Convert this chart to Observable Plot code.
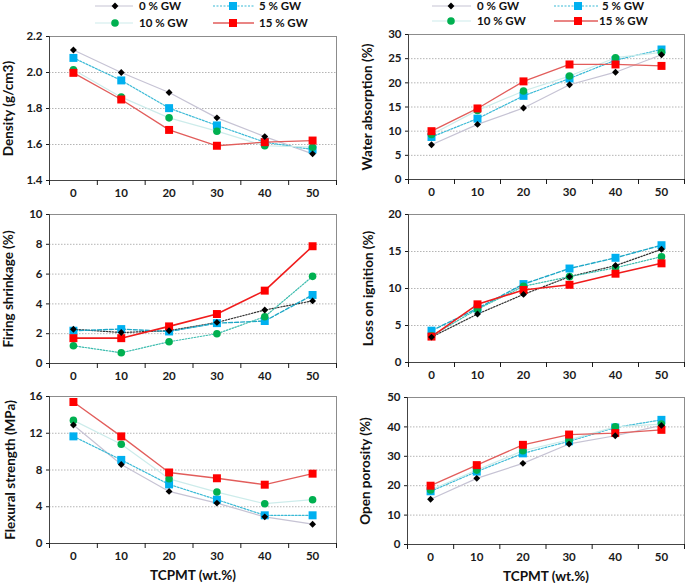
<!DOCTYPE html>
<html>
<head>
<meta charset="utf-8">
<script src="https://cdn.jsdelivr.net/npm/d3@7"></script>
<script src="https://cdn.jsdelivr.net/npm/@observablehq/plot@0.6"></script>
<style>
  html, body { margin: 0; padding: 0; background: #fff; }
  #root { position: relative; width: 685px; height: 583px; overflow: hidden; font-family: Lato, "Liberation Sans", sans-serif; }
  #root > svg, #root > div { position: absolute; }
  #root svg [aria-label="y-axis label"] text,
  #root svg [aria-label="x-axis label"] text { font-size: 13.5px; font-weight: bold; fill: #111; }
</style>
</head>
<body>
<div id="root"></div>
<script>
// ---------- data ----------
const tcpmt = [0, 10, 20, 30, 40, 50];
const seriesNames = ["0 % GW", "5 % GW", "10 % GW", "15 % GW"];

// rows: 0 % GW, 5 % GW, 10 % GW, 15 % GW
const density = [
  [2.125, 2.0, 1.889, 1.748, 1.644, 1.548],
  [2.081, 1.956, 1.802, 1.706, 1.613, 1.572],
  [2.015, 1.863, 1.748, 1.674, 1.593, 1.585],
  [1.998, 1.85, 1.681, 1.593, 1.613, 1.622]
];
const waterAbsorption = [
  [7.2, 11.4, 14.8, 19.6, 22.2, 25.8],
  [8.8, 12.6, 17.3, 20.9, 24.7, 26.9],
  [9.3, 14.3, 18.3, 21.4, 25.2, 26.3],
  [10.0, 14.7, 20.3, 23.8, 23.8, 23.5]
];
const firingShrinkage = [
  [2.3, 2.08, 2.2, 2.76, 3.59, 4.2],
  [2.2, 2.31, 2.15, 2.71, 2.85, 4.6],
  [1.19, 0.72, 1.46, 2.0, 3.14, 5.85],
  [1.7, 1.7, 2.49, 3.32, 4.89, 7.87]
];
const lossOnIgnition = [
  [3.43, 6.55, 9.2, 11.6, 13.1, 15.3],
  [4.3, 7.3, 10.6, 12.7, 14.15, 15.85],
  [3.6, 7.2, 10.3, 11.6, 12.8, 14.3],
  [3.5, 7.86, 9.8, 10.5, 12.0, 13.4]
];
const flexuralStrength = [
  [12.9, 8.6, 5.67, 4.4, 2.9, 2.1],
  [11.66, 9.1, 6.43, 4.77, 3.07, 3.07],
  [13.4, 10.8, 7.04, 5.6, 4.33, 4.77],
  [15.4, 11.66, 7.73, 7.1, 6.4, 7.6]
];
const openPorosity = [
  [15.4, 22.5, 27.6, 34.2, 37.0, 40.5],
  [18.1, 24.8, 31.0, 35.1, 39.8, 42.4],
  [18.55, 25.3, 31.9, 35.6, 40.0, 40.95],
  [20.0, 27.0, 33.9, 37.4, 37.9, 39.0]
];

const densityTicks = [1.4, 1.6, 1.8, 2.0, 2.2];
const waterTicks = [0, 5, 10, 15, 20, 25, 30];
const firingTicks = [0, 2, 4, 6, 8, 10];
const loiTicks = [0, 5, 10, 15, 20];
const flexuralTicks = [0, 4, 8, 12, 16];
const porosityTicks = [0, 10, 20, 30, 40, 50];

// ---------- styles ----------
const markerFill = ["#000000", "#00b0f0", "#00b050", "#ff0000"];
const markerSymbol = ["diamond2", "square", "circle", "square"];
const markerR = [3.1, 4.5, 3.8, 4.5];
const lightLines = [
  {stroke: "#c6c3d4", strokeWidth: 1.2},
  {stroke: "#3bbad6", strokeWidth: 1.2, strokeDasharray: "2,1.5"},
  {stroke: "#cdeceb", strokeWidth: 1.2},
  {stroke: "#e25d5b", strokeWidth: 1.3}
];
const darkLines = [
  {stroke: "#333333", strokeWidth: 1.2, strokeDasharray: "1.5,1.5"},
  {stroke: "#1ea7c6", strokeWidth: 1.4, strokeDasharray: "4,2"},
  {stroke: "#3cbcae", strokeWidth: 1.2, strokeDasharray: "1.5,1.5"},
  {stroke: "#f01c1c", strokeWidth: 1.6}
];
const drawOrder = [1, 2, 3, 0];

const xDomain = [-5, 55];
const bandEdges = d3.range(xDomain[0], xDomain[1] + 1, 10);

const root = document.getElementById("root");

function panel(o) {
  const rows = o.values.flatMap((vals, i) => vals.map((v, j) => ({x: tcpmt[j], y: v, s: i})));
  const marks = [
    Plot.gridY(o.yTicks, {stroke: "#b5b5b5", strokeOpacity: 1, strokeDasharray: "1.5,1.5"}),
    Plot.frame({stroke: "#8c8c8c"}),
    Plot.ruleY([o.yDomain[0]], {stroke: "#444"}),
    Plot.ruleX([xDomain[0]], {stroke: "#444"}),
    Plot.axisY(o.yTicks, {tickSize: 3, tickPadding: 4, tickFormat: o.yFormat,
      label: o.yLabel, labelAnchor: "center", labelArrow: false, labelOffset: o.labelOffset}),
    Plot.axisX(bandEdges, {tickSize: 5, tickFormat: () => "", label: null}),
    Plot.axisX(tcpmt, {tickSize: 0, tickPadding: 8, tickFormat: d3.format("d"),
      label: o.xLabel ?? null, labelAnchor: "center", labelArrow: false, labelOffset: 36})
  ];
  o.styles.forEach((st, i) => {
    marks.push(Plot.line(rows.filter(d => d.s === i), {x: "x", y: "y", ...st}));
  });
  drawOrder.forEach(i => {
    marks.push(Plot.dot(rows.filter(d => d.s === i), {x: "x", y: "y", fill: markerFill[i],
      stroke: "none", symbol: markerSymbol[i], r: markerR[i]}));
  });
  const svg = Plot.plot({
    width: o.width, height: o.height,
    marginLeft: o.ml, marginRight: o.mr, marginTop: o.mt, marginBottom: o.mb,
    x: {domain: xDomain},
    y: {domain: o.yDomain},
    style: {fontFamily: "Lato, 'Liberation Sans', sans-serif", fontSize: "11.5px", fontWeight: "bold", color: "#1a1a1a", background: "transparent", overflow: "visible"},
    marks
  });
  svg.style.left = o.left + "px";
  svg.style.top = o.top + "px";
  root.appendChild(svg);
}

panel({values: density, left: 0, top: 30, width: 340, height: 172, ml: 49, mr: 4, mt: 6, mb: 22,
  yDomain: [1.4, 2.2], yTicks: densityTicks, yFormat: d3.format(".1f"), yLabel: "Density (g/cm3)", labelOffset: 46, styles: lightLines});
panel({values: waterAbsorption, left: 340, top: 30, width: 345, height: 171, ml: 68, mr: 1, mt: 4, mb: 22,
  yDomain: [0, 30], yTicks: waterTicks, yFormat: d3.format("d"), yLabel: "Water absorption (%)", labelOffset: 46, styles: lightLines});
panel({values: firingShrinkage, left: 0, top: 204, width: 340, height: 181, ml: 49, mr: 4, mt: 10, mb: 22,
  yDomain: [0, 10], yTicks: firingTicks, yFormat: d3.format("d"), yLabel: "Firing shrinkage (%)", labelOffset: 46, styles: darkLines});
panel({values: lossOnIgnition, left: 340, top: 204, width: 345, height: 180, ml: 68, mr: 1, mt: 10, mb: 22,
  yDomain: [0, 20], yTicks: loiTicks, yFormat: d3.format("d"), yLabel: "Loss on ignition (%)", labelOffset: 45, styles: darkLines});
panel({values: flexuralStrength, left: 0, top: 386, width: 340, height: 197, ml: 49, mr: 4, mt: 10, mb: 40,
  yDomain: [0, 16], yTicks: flexuralTicks, yFormat: d3.format("d"), yLabel: "Flexural strength (MPa)", labelOffset: 44, styles: lightLines, xLabel: "TCPMT (wt.%)"});
panel({values: openPorosity, left: 340, top: 387, width: 345, height: 196, ml: 67, mr: 1, mt: 10, mb: 39,
  yDomain: [0, 50], yTicks: porosityTicks, yFormat: d3.format("d"), yLabel: "Open porosity (%)", labelOffset: 47, styles: lightLines, xLabel: "TCPMT (wt.%)"});

// ---------- legends ----------
function legend(left, items) {
  const svg = d3.create("svg").attr("width", 345).attr("height", 32)
    .style("left", left + "px").style("top", "0px")
    .attr("font-family", "Lato, 'Liberation Sans', sans-serif").attr("font-weight", "bold").attr("font-size", 11.5);
  items.forEach((it, i) => {
    const st = lightLines[i];
    svg.append("line").attr("x1", it.x1).attr("x2", it.x2).attr("y1", it.y).attr("y2", it.y)
      .attr("stroke", st.stroke).attr("stroke-width", st.strokeWidth)
      .attr("stroke-dasharray", st.strokeDasharray || null);
    const sym = {diamond2: d3.symbolDiamond2, square: d3.symbolSquare, circle: d3.symbolCircle}[markerSymbol[i]];
    svg.append("path").attr("d", d3.symbol(sym, markerR[i] * markerR[i] * Math.PI)())
      .attr("transform", `translate(${it.m},${it.y})`).attr("fill", markerFill[i]);
    svg.append("text").attr("x", it.t).attr("y", it.y).attr("dy", "0.35em").attr("fill", "#111").text(seriesNames[i]);
  });
  root.appendChild(svg.node());
}
legend(0, [
  {x1: 95, x2: 133, m: 115, t: 139, y: 6},
  {x1: 213, x2: 254, m: 233, t: 259, y: 6},
  {x1: 95, x2: 133, m: 115, t: 139, y: 23},
  {x1: 213, x2: 254, m: 233, t: 259, y: 23}
]);
legend(340, [
  {x1: 92, x2: 131, m: 111, t: 137, y: 6},
  {x1: 214, x2: 258, m: 238, t: 262, y: 6},
  {x1: 92, x2: 131, m: 111, t: 137, y: 21},
  {x1: 214, x2: 258, m: 238, t: 259, y: 21}
]);
</script>
</body>
</html>
